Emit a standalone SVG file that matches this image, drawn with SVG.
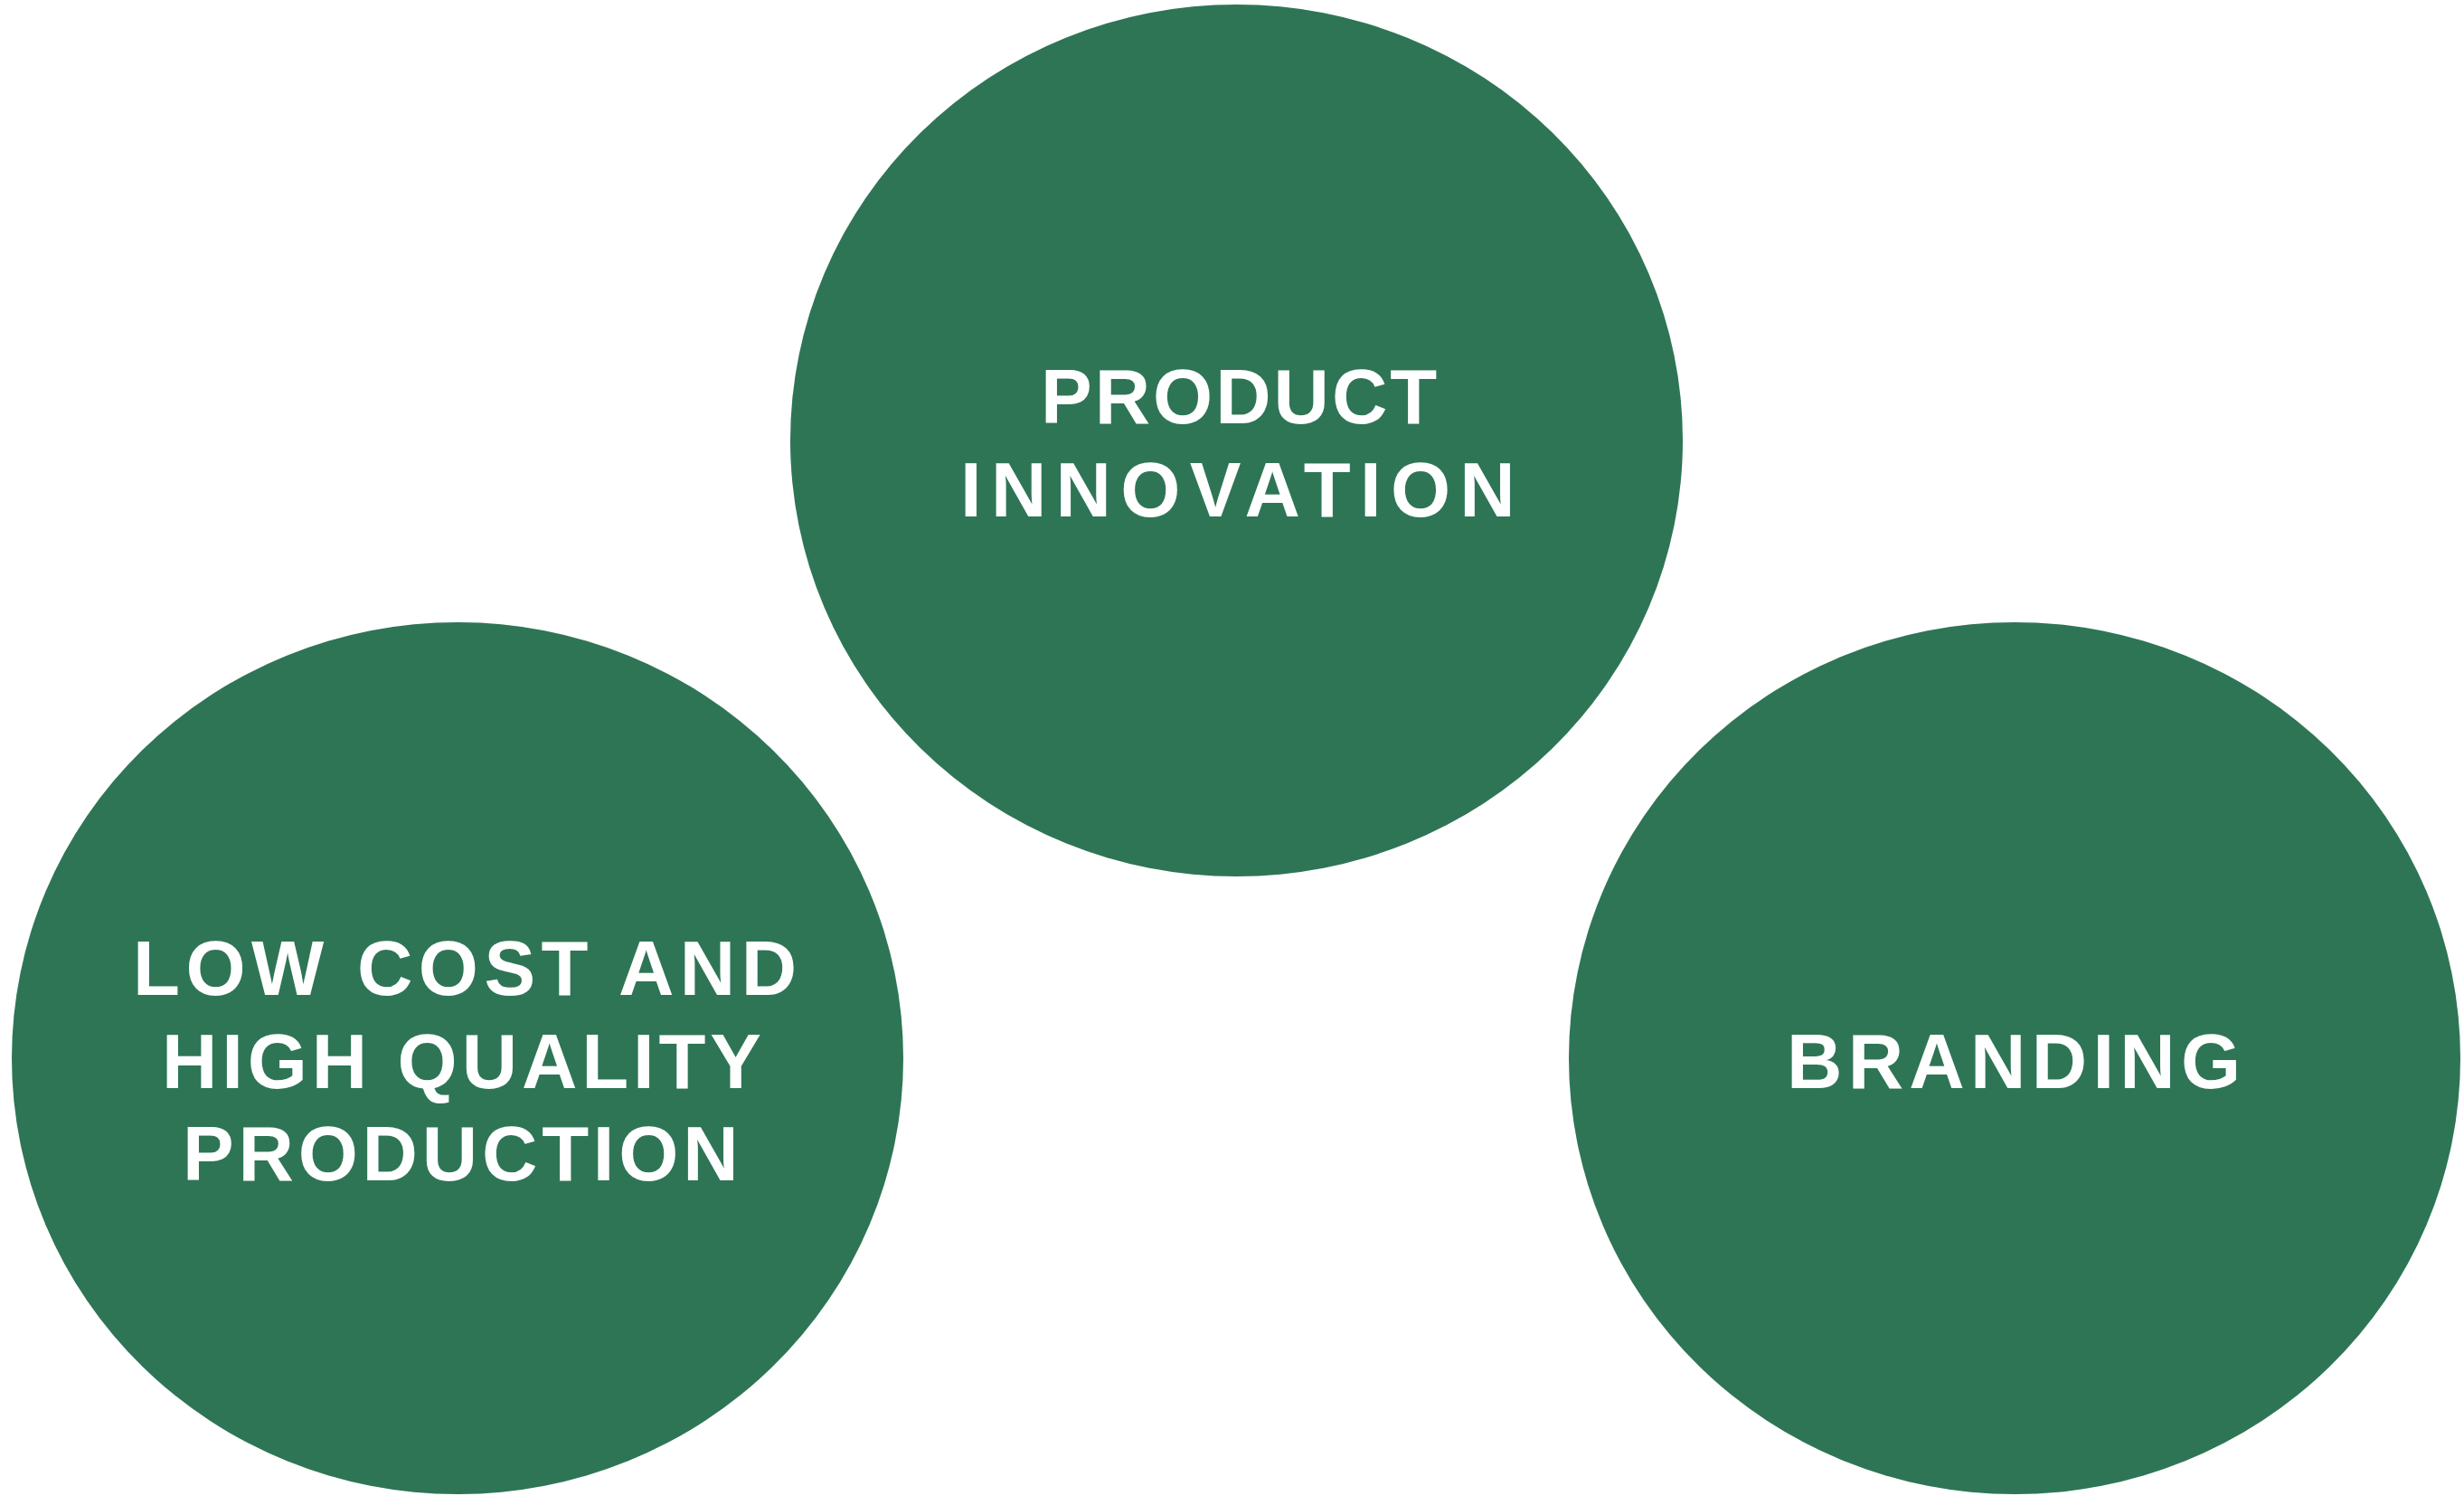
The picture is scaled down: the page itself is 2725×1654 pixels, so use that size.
<svg xmlns="http://www.w3.org/2000/svg" width="2725" height="1654" viewBox="0 0 2725 1654">
<style>
.node{fill:#2e7556;}
.lbl{fill:#ffffff;font-family:"Liberation Sans",Arial,sans-serif;font-weight:700;font-size:85px;}
</style>
<rect width="2725" height="1654" fill="#ffffff"/>
<g id="connectors"></g>
<g id="product-innovation">
<ellipse class="node" cx="1367.5" cy="487" rx="493.5" ry="482"/>
<text class="lbl" x="1151" y="468" letter-spacing="3">PRODUCT</text>
<text class="lbl" x="1062" y="571" letter-spacing="10.3">INNOVATION</text>
</g>
<g id="low-cost-production">
<ellipse class="node" cx="506" cy="1170" rx="493" ry="482"/>
<text class="lbl" x="147" y="1100" letter-spacing="6.5">LOW COST AND</text>
<text class="lbl" x="179" y="1203" letter-spacing="4.9">HIGH QUALITY</text>
<text class="lbl" x="202" y="1305" letter-spacing="4.8">PRODUCTION</text>
</g>
<g id="branding">
<ellipse class="node" cx="2228" cy="1170" rx="493" ry="482"/>
<text class="lbl" x="1976" y="1203" letter-spacing="6.3">BRANDING</text>
</g>
</svg>
